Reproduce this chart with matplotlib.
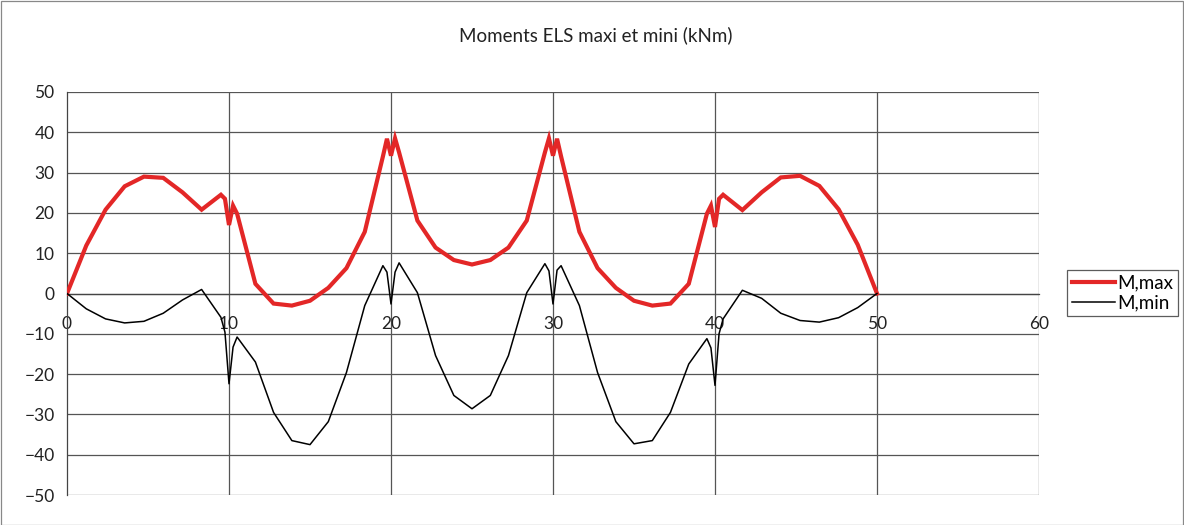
import matplotlib
matplotlib.use("Agg")
import matplotlib.pyplot as plt
from matplotlib.patches import Rectangle

plt.rcParams['font.family'] = ['Lato', 'DejaVu Sans']

# Abscissae along the beam (m)
x_pos = [0, 1.19, 2.38, 3.56, 4.75, 5.94, 7.13, 8.31, 9.5,
         9.75, 10, 10.25,
         10.5, 11.63, 12.75, 13.88, 15.0, 16.13, 17.25, 18.38, 19.5,
         19.75, 20, 20.25,
         20.5, 21.63, 22.75, 23.88, 25.0, 26.13, 27.25, 28.38, 29.5,
         29.75, 30, 30.25,
         30.5, 31.63, 32.75, 33.88, 35.0, 36.13, 37.25, 38.38, 39.5,
         39.75, 40, 40.25,
         40.5, 41.69, 42.88, 44.06, 45.25, 46.44, 47.63, 48.81, 50]

# Maximum SLS bending moment (kNm)
m_max = [0, 11.9, 20.8, 26.6, 29.0, 28.7, 25.1, 20.8, 24.5,
         23.5, 17.0, 21.8,
         19.8, 2.4, -2.5, -3.0, -1.8, 1.4, 6.3, 15.3, 34.0,
         38.4, 34.2, 38.5,
         35.0, 18.1, 11.4, 8.3, 7.2, 8.3, 11.4, 18.1, 35.0,
         38.5, 34.2, 38.4,
         34.0, 15.3, 6.3, 1.4, -1.8, -3.0, -2.5, 2.4, 19.8,
         21.8, 16.5, 23.5,
         24.5, 20.7, 25.1, 28.8, 29.2, 26.7, 20.9, 12.1, 0]

# Minimum SLS bending moment (kNm)
m_min = [0, -3.8, -6.3, -7.3, -6.9, -4.9, -1.6, 1.0, -5.9,
         -9.6, -22.4, -13.3,
         -10.8, -17.0, -29.5, -36.5, -37.5, -31.8, -19.6, -3.0, 6.9,
         5.3, -2.6, 5.3,
         7.6, 0.2, -15.4, -25.3, -28.6, -25.3, -15.4, 0.2, 7.4,
         5.6, -2.6, 5.8,
         6.9, -3.0, -19.6, -31.8, -37.3, -36.5, -29.5, -17.5, -11.2,
         -13.5, -22.8, -10.0,
         -6.3, 0.8, -1.2, -4.9, -6.7, -7.1, -6.0, -3.5, 0]

x_ticks = [0, 10, 20, 30, 40, 50, 60]
y_ticks = [-50, -40, -30, -20, -10, 0, 10, 20, 30, 40, 50]

W, H = 1184, 525
fig = plt.figure(figsize=(W / 100, H / 100), dpi=100)
ax = fig.add_axes([67 / W, 1 - 495 / H, (1039 - 67) / W, (495 - 92) / H])

grid_col = '#555555'
for yv in y_ticks:
    ax.axhline(yv, color=grid_col, lw=0.9, zorder=1)
for xv in x_ticks[1:]:
    ax.axvline(xv, color=grid_col, lw=0.9, zorder=1)

ax.plot(x_pos, m_max, color='#E32727', lw=3.0, label='M,max', zorder=3,
        solid_joinstyle='miter')
ax.plot(x_pos, m_min, color='black', lw=1.1, label='M,min', zorder=3)

ax.set_xlim(0, 60)
ax.set_ylim(-50, 50)
ax.set_xticks(x_ticks)
ax.set_yticks(y_ticks)

for s in ['top', 'right']:
    ax.spines[s].set_visible(False)
ax.spines['bottom'].set_position(('data', 0))
ax.spines['bottom'].set_color('#444444')
ax.spines['left'].set_color('#444444')
ax.spines['bottom'].set_linewidth(0.9)
ax.spines['left'].set_linewidth(0.9)

ax.tick_params(axis='x', length=0, pad=16.5, labelsize=12.5, colors='#222222')
ax.tick_params(axis='y', length=0, pad=9, labelsize=12.5, colors='#222222')

fig.text(596 / W, 1 - 35 / H, 'Moments ELS maxi et mini (kNm)',
         ha='center', va='center', fontsize=13.5, color='#222222')

leg = fig.legend(loc='center left', bbox_to_anchor=(1067 / W, 1 - 293 / H),
                 frameon=True, fancybox=False, edgecolor='#333333',
                 fontsize=13.5, handlelength=2.3, handletextpad=0.15,
                 borderpad=0.25, labelspacing=0.15, borderaxespad=0)
leg.get_frame().set_linewidth(0.9)

fig.add_artist(Rectangle((0.5 / W, 0.5 / H), 1 - 1.5 / W, 1 - 1.5 / H,
                         transform=fig.transFigure, fill=False,
                         edgecolor='#888888', lw=0.9))

fig.savefig('out.png', dpi=100)
